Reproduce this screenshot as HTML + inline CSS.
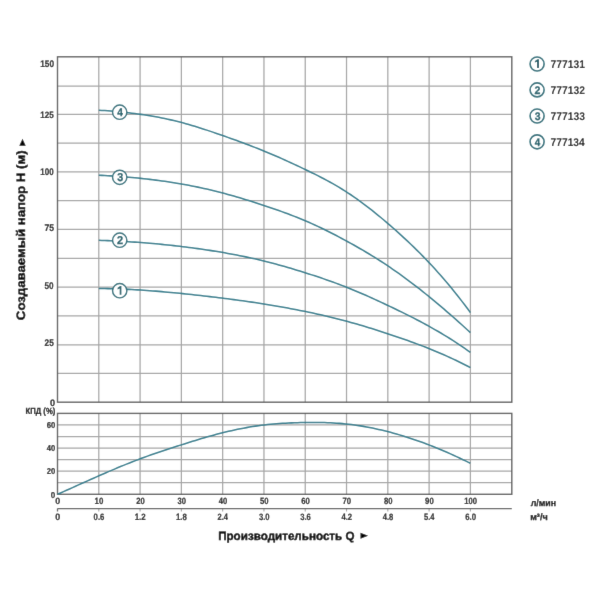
<!DOCTYPE html>
<html><head><meta charset="utf-8"><style>
html,body{margin:0;padding:0;background:#fff;width:600px;height:600px;overflow:hidden}
svg{display:block;will-change:transform}
text{font-family:"Liberation Sans",sans-serif;text-rendering:geometricPrecision}
</style></head><body>
<svg width="600" height="600" viewBox="0 0 600 600">
<defs><filter id="b" x="0" y="0" width="600" height="600" filterUnits="userSpaceOnUse"><feConvolveMatrix order="3" kernelMatrix="0.0052 0.0619 0.0052 0.0619 0.7314 0.0619 0.0052 0.0619 0.0052" edgeMode="duplicate"/></filter></defs>
<g filter="url(#b)">
<rect width="600" height="600" fill="#fff"/>
<path d="M57.5,86.2H511.8 M57.5,114.4H511.8 M57.5,143.1H511.8 M57.5,171.95H511.8 M57.5,200.55H511.8 M57.5,229.45H511.8 M57.5,258.4H511.8 M57.5,287.2H511.8 M57.5,315.85H511.8 M57.5,344.75H511.8 M57.5,373.3H511.8 M98.79,56.8V402.2 M140.08,56.8V402.2 M181.37,56.8V402.2 M222.66,56.8V402.2 M263.95,56.8V402.2 M305.24,56.8V402.2 M346.53,56.8V402.2 M387.82,56.8V402.2 M429.11,56.8V402.2 M470.4,56.8V402.2 M57.5,424.96H511.8 M57.5,436.51H511.8 M57.5,448.07H511.8 M57.5,459.63H511.8 M57.5,471.19H511.8 M57.5,482.74H511.8 M98.79,413.4V494.3 M140.08,413.4V494.3 M181.37,413.4V494.3 M222.66,413.4V494.3 M263.95,413.4V494.3 M305.24,413.4V494.3 M346.53,413.4V494.3 M387.82,413.4V494.3 M429.11,413.4V494.3 M470.4,413.4V494.3" stroke="#a6a6a6" stroke-width="1.25" fill="none"/>
<rect x="57.5" y="56.8" width="454.3" height="345.4" stroke="#5e5e5e" stroke-width="1.4" fill="none"/>
<rect x="57.5" y="413.4" width="454.3" height="80.9" stroke="#5e5e5e" stroke-width="1.4" fill="none"/>
<path d="M98.79,508.6V511.4 M140.08,508.6V511.4 M181.37,508.6V511.4 M222.66,508.6V511.4 M263.95,508.6V511.4 M305.24,508.6V511.4 M346.53,508.6V511.4 M387.82,508.6V511.4 M429.11,508.6V511.4 M470.4,508.6V511.4" stroke="#a6a6a6" stroke-width="1.1" fill="none"/>
<path d="M57.5,508.6H511.8 M57.5,508.6V511.6" stroke="#5e5e5e" stroke-width="1.3" fill="none"/>
<path d="M98.8,110.2 L101.8,110.4 L104.8,110.6 L107.8,110.83 L110.8,111.06 L113.8,111.31 L116.8,111.58 L119.8,111.86 L122.8,112.16 L125.8,112.48 L128.8,112.82 L131.8,113.17 L134.8,113.55 L137.8,113.95 L140.8,114.36 L143.8,114.8 L146.8,115.27 L149.8,115.75 L152.8,116.26 L155.8,116.8 L158.8,117.36 L161.8,117.94 L164.8,118.56 L167.8,119.2 L170.8,119.87 L173.8,120.57 L176.8,121.3 L179.8,122.06 L182.8,122.85 L185.8,123.67 L188.8,124.52 L191.8,125.4 L194.8,126.3 L197.8,127.23 L200.8,128.17 L203.8,129.14 L206.8,130.13 L209.8,131.13 L212.8,132.14 L215.8,133.17 L218.8,134.21 L221.8,135.25 L224.8,136.31 L227.8,137.37 L230.8,138.43 L233.8,139.51 L236.8,140.6 L239.8,141.69 L242.8,142.8 L245.8,143.92 L248.8,145.05 L251.8,146.2 L254.8,147.36 L257.8,148.55 L260.8,149.74 L263.8,150.96 L266.8,152.19 L269.8,153.45 L272.8,154.72 L275.8,156.01 L278.8,157.32 L281.8,158.64 L284.8,159.98 L287.8,161.34 L290.8,162.71 L293.8,164.09 L296.8,165.49 L299.8,166.9 L302.8,168.33 L305.8,169.76 L308.8,171.21 L311.8,172.68 L314.8,174.16 L317.8,175.67 L320.8,177.2 L323.8,178.77 L326.8,180.36 L329.8,182 L332.8,183.67 L335.8,185.39 L338.8,187.16 L341.8,188.98 L344.8,190.85 L347.8,192.78 L350.8,194.77 L353.8,196.82 L356.8,198.92 L359.8,201.08 L362.8,203.28 L365.8,205.54 L368.8,207.85 L371.8,210.2 L374.8,212.59 L377.8,215.03 L380.8,217.5 L383.8,220.01 L386.8,222.56 L389.8,225.14 L392.8,227.75 L395.8,230.4 L398.8,233.09 L401.8,235.81 L404.8,238.58 L407.8,241.38 L410.8,244.24 L413.8,247.13 L416.8,250.08 L419.8,253.07 L422.8,256.11 L425.8,259.21 L428.8,262.36 L431.8,265.57 L434.8,268.84 L437.8,272.16 L440.8,275.55 L443.8,278.99 L446.8,282.51 L449.8,286.09 L452.8,289.74 L455.8,293.45 L458.8,297.24 L461.8,301.11 L464.8,305.04 L467.8,309.06 L470.4,312.6" stroke="#2f7e8e" stroke-width="1.55" fill="none"/>
<path d="M98.8,175.2 L101.8,175.36 L104.8,175.52 L107.8,175.7 L110.8,175.89 L113.8,176.09 L116.8,176.29 L119.8,176.51 L122.8,176.74 L125.8,176.99 L128.8,177.24 L131.8,177.51 L134.8,177.79 L137.8,178.08 L140.8,178.38 L143.8,178.7 L146.8,179.03 L149.8,179.38 L152.8,179.74 L155.8,180.12 L158.8,180.51 L161.8,180.92 L164.8,181.34 L167.8,181.78 L170.8,182.24 L173.8,182.71 L176.8,183.2 L179.8,183.7 L182.8,184.23 L185.8,184.77 L188.8,185.33 L191.8,185.91 L194.8,186.51 L197.8,187.13 L200.8,187.76 L203.8,188.42 L206.8,189.09 L209.8,189.79 L212.8,190.5 L215.8,191.23 L218.8,191.99 L221.8,192.76 L224.8,193.56 L227.8,194.38 L230.8,195.21 L233.8,196.07 L236.8,196.94 L239.8,197.83 L242.8,198.73 L245.8,199.65 L248.8,200.58 L251.8,201.53 L254.8,202.49 L257.8,203.46 L260.8,204.44 L263.8,205.43 L266.8,206.43 L269.8,207.45 L272.8,208.47 L275.8,209.51 L278.8,210.56 L281.8,211.63 L284.8,212.72 L287.8,213.83 L290.8,214.96 L293.8,216.12 L296.8,217.3 L299.8,218.51 L302.8,219.75 L305.8,221.01 L308.8,222.31 L311.8,223.64 L314.8,225.01 L317.8,226.4 L320.8,227.82 L323.8,229.26 L326.8,230.73 L329.8,232.23 L332.8,233.76 L335.8,235.3 L338.8,236.87 L341.8,238.46 L344.8,240.08 L347.8,241.71 L350.8,243.36 L353.8,245.04 L356.8,246.74 L359.8,248.46 L362.8,250.2 L365.8,251.97 L368.8,253.77 L371.8,255.6 L374.8,257.46 L377.8,259.34 L380.8,261.26 L383.8,263.21 L386.8,265.2 L389.8,267.22 L392.8,269.27 L395.8,271.36 L398.8,273.48 L401.8,275.64 L404.8,277.83 L407.8,280.05 L410.8,282.3 L413.8,284.58 L416.8,286.89 L419.8,289.23 L422.8,291.6 L425.8,294 L428.8,296.43 L431.8,298.88 L434.8,301.36 L437.8,303.87 L440.8,306.4 L443.8,308.96 L446.8,311.54 L449.8,314.14 L452.8,316.77 L455.8,319.41 L458.8,322.08 L461.8,324.78 L464.8,327.49 L467.8,330.22 L470.4,332.6" stroke="#2f7e8e" stroke-width="1.55" fill="none"/>
<path d="M98.8,240.3 L101.8,240.41 L104.8,240.52 L107.8,240.64 L110.8,240.77 L113.8,240.91 L116.8,241.06 L119.8,241.22 L122.8,241.38 L125.8,241.56 L128.8,241.74 L131.8,241.93 L134.8,242.13 L137.8,242.34 L140.8,242.56 L143.8,242.79 L146.8,243.03 L149.8,243.27 L152.8,243.53 L155.8,243.8 L158.8,244.07 L161.8,244.36 L164.8,244.66 L167.8,244.96 L170.8,245.28 L173.8,245.61 L176.8,245.95 L179.8,246.3 L182.8,246.66 L185.8,247.03 L188.8,247.41 L191.8,247.8 L194.8,248.21 L197.8,248.62 L200.8,249.05 L203.8,249.48 L206.8,249.93 L209.8,250.39 L212.8,250.86 L215.8,251.35 L218.8,251.84 L221.8,252.35 L224.8,252.86 L227.8,253.39 L230.8,253.94 L233.8,254.49 L236.8,255.06 L239.8,255.65 L242.8,256.25 L245.8,256.87 L248.8,257.5 L251.8,258.16 L254.8,258.83 L257.8,259.51 L260.8,260.22 L263.8,260.95 L266.8,261.7 L269.8,262.47 L272.8,263.26 L275.8,264.06 L278.8,264.89 L281.8,265.73 L284.8,266.59 L287.8,267.46 L290.8,268.34 L293.8,269.24 L296.8,270.16 L299.8,271.08 L302.8,272.01 L305.8,272.96 L308.8,273.91 L311.8,274.88 L314.8,275.85 L317.8,276.84 L320.8,277.85 L323.8,278.87 L326.8,279.9 L329.8,280.96 L332.8,282.03 L335.8,283.12 L338.8,284.24 L341.8,285.37 L344.8,286.53 L347.8,287.72 L350.8,288.93 L353.8,290.16 L356.8,291.41 L359.8,292.69 L362.8,293.99 L365.8,295.3 L368.8,296.64 L371.8,297.99 L374.8,299.35 L377.8,300.73 L380.8,302.12 L383.8,303.52 L386.8,304.93 L389.8,306.35 L392.8,307.78 L395.8,309.23 L398.8,310.68 L401.8,312.14 L404.8,313.63 L407.8,315.12 L410.8,316.64 L413.8,318.17 L416.8,319.72 L419.8,321.3 L422.8,322.9 L425.8,324.52 L428.8,326.17 L431.8,327.84 L434.8,329.55 L437.8,331.28 L440.8,333.04 L443.8,334.84 L446.8,336.67 L449.8,338.53 L452.8,340.44 L455.8,342.37 L458.8,344.35 L461.8,346.37 L464.8,348.43 L467.8,350.54 L470.4,352.4" stroke="#2f7e8e" stroke-width="1.55" fill="none"/>
<path d="M98.8,288.5 L101.8,288.52 L104.8,288.56 L107.8,288.62 L110.8,288.68 L113.8,288.76 L116.8,288.86 L119.8,288.97 L122.8,289.09 L125.8,289.22 L128.8,289.36 L131.8,289.52 L134.8,289.68 L137.8,289.86 L140.8,290.05 L143.8,290.25 L146.8,290.46 L149.8,290.68 L152.8,290.91 L155.8,291.14 L158.8,291.39 L161.8,291.64 L164.8,291.91 L167.8,292.18 L170.8,292.45 L173.8,292.74 L176.8,293.03 L179.8,293.33 L182.8,293.63 L185.8,293.94 L188.8,294.26 L191.8,294.58 L194.8,294.91 L197.8,295.24 L200.8,295.58 L203.8,295.92 L206.8,296.27 L209.8,296.62 L212.8,296.98 L215.8,297.34 L218.8,297.71 L221.8,298.09 L224.8,298.47 L227.8,298.85 L230.8,299.24 L233.8,299.63 L236.8,300.03 L239.8,300.44 L242.8,300.85 L245.8,301.27 L248.8,301.7 L251.8,302.14 L254.8,302.58 L257.8,303.04 L260.8,303.5 L263.8,303.97 L266.8,304.45 L269.8,304.94 L272.8,305.44 L275.8,305.95 L278.8,306.47 L281.8,307 L284.8,307.53 L287.8,308.08 L290.8,308.64 L293.8,309.21 L296.8,309.8 L299.8,310.39 L302.8,310.99 L305.8,311.6 L308.8,312.23 L311.8,312.86 L314.8,313.51 L317.8,314.17 L320.8,314.84 L323.8,315.53 L326.8,316.23 L329.8,316.94 L332.8,317.67 L335.8,318.42 L338.8,319.18 L341.8,319.95 L344.8,320.74 L347.8,321.55 L350.8,322.38 L353.8,323.22 L356.8,324.08 L359.8,324.95 L362.8,325.84 L365.8,326.74 L368.8,327.66 L371.8,328.59 L374.8,329.53 L377.8,330.48 L380.8,331.45 L383.8,332.42 L386.8,333.4 L389.8,334.4 L392.8,335.4 L395.8,336.41 L398.8,337.44 L401.8,338.47 L404.8,339.52 L407.8,340.59 L410.8,341.67 L413.8,342.76 L416.8,343.88 L419.8,345 L422.8,346.15 L425.8,347.32 L428.8,348.51 L431.8,349.72 L434.8,350.95 L437.8,352.21 L440.8,353.49 L443.8,354.79 L446.8,356.12 L449.8,357.48 L452.8,358.87 L455.8,360.28 L458.8,361.72 L461.8,363.2 L464.8,364.7 L467.8,366.24 L470.4,367.6" stroke="#2f7e8e" stroke-width="1.55" fill="none"/>
<path d="M57.5,494.3 L60.5,492.97 L63.5,491.63 L66.5,490.29 L69.5,488.95 L72.5,487.6 L75.5,486.26 L78.5,484.91 L81.5,483.56 L84.5,482.22 L87.5,480.88 L90.5,479.54 L93.5,478.21 L96.5,476.88 L99.5,475.56 L102.5,474.25 L105.5,472.94 L108.5,471.65 L111.5,470.37 L114.5,469.09 L117.5,467.84 L120.5,466.59 L123.5,465.36 L126.5,464.14 L129.5,462.94 L132.5,461.76 L135.5,460.6 L138.5,459.45 L141.5,458.33 L144.5,457.22 L147.5,456.14 L150.5,455.07 L153.5,454.02 L156.5,452.99 L159.5,451.97 L162.5,450.96 L165.5,449.96 L168.5,448.98 L171.5,448 L174.5,447.04 L177.5,446.07 L180.5,445.12 L183.5,444.17 L186.5,443.22 L189.5,442.28 L192.5,441.34 L195.5,440.42 L198.5,439.51 L201.5,438.61 L204.5,437.72 L207.5,436.85 L210.5,436 L213.5,435.17 L216.5,434.36 L219.5,433.57 L222.5,432.8 L225.5,432.06 L228.5,431.34 L231.5,430.65 L234.5,429.99 L237.5,429.36 L240.5,428.75 L243.5,428.17 L246.5,427.62 L249.5,427.1 L252.5,426.61 L255.5,426.14 L258.5,425.71 L261.5,425.31 L264.5,424.94 L267.5,424.6 L270.5,424.29 L273.5,424.01 L276.5,423.76 L279.5,423.54 L282.5,423.34 L285.5,423.16 L288.5,423 L291.5,422.87 L294.5,422.76 L297.5,422.67 L300.5,422.59 L303.5,422.53 L306.5,422.49 L309.5,422.46 L312.5,422.44 L315.5,422.45 L318.5,422.48 L321.5,422.52 L324.5,422.59 L327.5,422.69 L330.5,422.81 L333.5,422.97 L336.5,423.15 L339.5,423.36 L342.5,423.61 L345.5,423.9 L348.5,424.22 L351.5,424.58 L354.5,424.97 L357.5,425.41 L360.5,425.87 L363.5,426.38 L366.5,426.91 L369.5,427.48 L372.5,428.09 L375.5,428.72 L378.5,429.39 L381.5,430.09 L384.5,430.81 L387.5,431.57 L390.5,432.36 L393.5,433.17 L396.5,434.01 L399.5,434.88 L402.5,435.78 L405.5,436.71 L408.5,437.66 L411.5,438.65 L414.5,439.66 L417.5,440.69 L420.5,441.76 L423.5,442.85 L426.5,443.97 L429.5,445.12 L432.5,446.29 L435.5,447.49 L438.5,448.71 L441.5,449.97 L444.5,451.24 L447.5,452.55 L450.5,453.88 L453.5,455.23 L456.5,456.62 L459.5,458.02 L462.5,459.46 L465.5,460.91 L468.5,462.4 L470.3,463.3" stroke="#2f7e8e" stroke-width="1.55" fill="none"/>
<circle cx="119.7" cy="290.7" r="7.15" fill="#fff" stroke="#2f717c" stroke-width="1.45"/>
<path d="M121.4,286.1 L121.4,294.8 L119.7,294.8 L119.7,288.5 L117.6,289.4 L117.6,287.8 L120.04,286.1 Z" fill="#27646e"/>
<circle cx="119.7" cy="240.2" r="7.15" fill="#fff" stroke="#2f717c" stroke-width="1.45"/>
<text transform="translate(117.07,244) scale(0.964,1)" font-size="11.43" font-weight="bold" stroke="#27646e" stroke-width="0.026em" fill="#27646e">2</text>
<circle cx="119.7" cy="177.3" r="7.15" fill="#fff" stroke="#2f717c" stroke-width="1.45"/>
<text transform="translate(117.18,181.1) scale(0.945,1)" font-size="11.43" font-weight="bold" stroke="#27646e" stroke-width="0.026em" fill="#27646e">3</text>
<circle cx="119.7" cy="112.2" r="7.15" fill="#fff" stroke="#2f717c" stroke-width="1.45"/>
<text transform="translate(117.2,116) scale(0.892,1)" font-size="11.43" font-weight="bold" stroke="#27646e" stroke-width="0.026em" fill="#27646e">4</text>
<circle cx="537.1" cy="64" r="7.0" fill="#fff" stroke="#2f717c" stroke-width="1.6"/>
<path d="M539,59.3 L539,67.9 L537,67.9 L537,61.7 L534.9,62.6 L534.9,61 L537.4,59.3 Z" fill="#27646e"/>
<text transform="translate(550.59,67.8) scale(0.925,1)" font-size="11.14" font-weight="bold" fill="#1a1a1a">777131</text>
<circle cx="537.1" cy="89.9" r="7.0" fill="#fff" stroke="#2f717c" stroke-width="1.6"/>
<text transform="translate(534.58,93.6) scale(0.965,1)" font-size="11" font-weight="bold" stroke="#27646e" stroke-width="0.027em" fill="#27646e">2</text>
<text transform="translate(550.59,93.7) scale(0.928,1)" font-size="11.14" font-weight="bold" fill="#1a1a1a">777132</text>
<circle cx="537.1" cy="116" r="7.0" fill="#fff" stroke="#2f717c" stroke-width="1.6"/>
<text transform="translate(534.69,119.7) scale(0.945,1)" font-size="11" font-weight="bold" stroke="#27646e" stroke-width="0.027em" fill="#27646e">3</text>
<text transform="translate(550.59,119.8) scale(0.928,1)" font-size="11.14" font-weight="bold" fill="#1a1a1a">777133</text>
<circle cx="537.1" cy="141.85" r="7.0" fill="#fff" stroke="#2f717c" stroke-width="1.6"/>
<text transform="translate(534.7,145.55) scale(0.892,1)" font-size="11" font-weight="bold" stroke="#27646e" stroke-width="0.027em" fill="#27646e">4</text>
<text transform="translate(550.59,145.65) scale(0.919,1)" font-size="11.14" font-weight="bold" fill="#1a1a1a">777134</text>
<text transform="translate(40.2,67) scale(0.865,1)" font-size="9.57" font-weight="bold" stroke="#222" stroke-width="0.021em" fill="#222">150</text>
<text transform="translate(40.32,118) scale(0.866,1)" font-size="9.29" font-weight="bold" stroke="#222" stroke-width="0.022em" fill="#222">125</text>
<text transform="translate(40.32,174.8) scale(0.832,1)" font-size="9.57" font-weight="bold" stroke="#222" stroke-width="0.021em" fill="#222">100</text>
<text transform="translate(44.46,230.8) scale(0.886,1)" font-size="9.71" font-weight="bold" stroke="#222" stroke-width="0.021em" fill="#222">75</text>
<text transform="translate(44.55,289) scale(0.829,1)" font-size="9.86" font-weight="bold" stroke="#222" stroke-width="0.020em" fill="#222">50</text>
<text transform="translate(44.55,345.8) scale(0.853,1)" font-size="9.71" font-weight="bold" stroke="#222" stroke-width="0.021em" fill="#222">25</text>
<text transform="translate(49.93,405.5) scale(0.970,1)" font-size="9.43" font-weight="bold" stroke="#222" stroke-width="0.021em" fill="#222">0</text>
<text transform="translate(46.69,428.3) scale(0.906,1)" font-size="8.57" font-weight="bold" stroke="#222" stroke-width="0.023em" fill="#222">60</text>
<text transform="translate(46.85,451.1) scale(0.889,1)" font-size="8.57" font-weight="bold" stroke="#222" stroke-width="0.023em" fill="#222">40</text>
<text transform="translate(46.77,473.8) scale(0.897,1)" font-size="8.57" font-weight="bold" stroke="#222" stroke-width="0.023em" fill="#222">20</text>
<text transform="translate(50.68,497.7) scale(0.943,1)" font-size="8.57" font-weight="bold" stroke="#222" stroke-width="0.023em" fill="#222">0</text>
<text transform="translate(55.34,503.8) scale(0.977,1)" font-size="9.14" font-weight="bold" stroke="#222" stroke-width="0.022em" fill="#222">0</text>
<text transform="translate(94.61,503.8) scale(0.866,1)" font-size="9.14" font-weight="bold" stroke="#222" stroke-width="0.022em" fill="#222">10</text>
<text transform="translate(136.15,503.8) scale(0.841,1)" font-size="9.14" font-weight="bold" stroke="#222" stroke-width="0.022em" fill="#222">20</text>
<text transform="translate(177.52,503.8) scale(0.833,1)" font-size="9.14" font-weight="bold" stroke="#222" stroke-width="0.022em" fill="#222">30</text>
<text transform="translate(218.81,503.8) scale(0.833,1)" font-size="9.14" font-weight="bold" stroke="#222" stroke-width="0.022em" fill="#222">40</text>
<text transform="translate(260.02,503.8) scale(0.841,1)" font-size="9.14" font-weight="bold" stroke="#222" stroke-width="0.022em" fill="#222">50</text>
<text transform="translate(301.23,503.8) scale(0.850,1)" font-size="9.14" font-weight="bold" stroke="#222" stroke-width="0.022em" fill="#222">60</text>
<text transform="translate(342.52,503.8) scale(0.850,1)" font-size="9.14" font-weight="bold" stroke="#222" stroke-width="0.022em" fill="#222">70</text>
<text transform="translate(383.89,503.8) scale(0.841,1)" font-size="9.14" font-weight="bold" stroke="#222" stroke-width="0.022em" fill="#222">80</text>
<text transform="translate(425.1,503.8) scale(0.850,1)" font-size="9.14" font-weight="bold" stroke="#222" stroke-width="0.022em" fill="#222">90</text>
<text transform="translate(464.24,503.8) scale(0.836,1)" font-size="9.14" font-weight="bold" stroke="#222" stroke-width="0.022em" fill="#222">100</text>
<text transform="translate(55.24,519.5) scale(0.962,1)" font-size="9.29" font-weight="bold" stroke="#222" stroke-width="0.022em" fill="#222">0</text>
<text transform="translate(93.58,519.5) scale(0.839,1)" font-size="9.29" font-weight="bold" stroke="#222" stroke-width="0.022em" fill="#222">0.6</text>
<text transform="translate(134.71,519.5) scale(0.852,1)" font-size="9.29" font-weight="bold" stroke="#222" stroke-width="0.022em" fill="#222">1.2</text>
<text transform="translate(176,519.5) scale(0.845,1)" font-size="9.29" font-weight="bold" stroke="#222" stroke-width="0.022em" fill="#222">1.8</text>
<text transform="translate(217.53,519.5) scale(0.808,1)" font-size="9.29" font-weight="bold" stroke="#222" stroke-width="0.022em" fill="#222">2.4</text>
<text transform="translate(258.9,519.5) scale(0.826,1)" font-size="9.29" font-weight="bold" stroke="#222" stroke-width="0.022em" fill="#222">3.0</text>
<text transform="translate(300.19,519.5) scale(0.826,1)" font-size="9.29" font-weight="bold" stroke="#222" stroke-width="0.022em" fill="#222">3.6</text>
<text transform="translate(341.48,519.5) scale(0.826,1)" font-size="9.29" font-weight="bold" stroke="#222" stroke-width="0.022em" fill="#222">4.2</text>
<text transform="translate(382.77,519.5) scale(0.820,1)" font-size="9.29" font-weight="bold" stroke="#222" stroke-width="0.022em" fill="#222">4.8</text>
<text transform="translate(423.98,519.5) scale(0.808,1)" font-size="9.29" font-weight="bold" stroke="#222" stroke-width="0.022em" fill="#222">5.4</text>
<text transform="translate(465.19,519.5) scale(0.839,1)" font-size="9.29" font-weight="bold" stroke="#222" stroke-width="0.022em" fill="#222">6.0</text>
<text transform="translate(25.46,414.3) scale(0.872,1)" font-size="8.84" font-weight="bold" stroke="#111" stroke-width="0.028em" fill="#111">КПД (%)</text>
<text transform="translate(530.71,506.2) scale(0.950,1)" font-size="9.32" font-weight="bold" stroke="#111" stroke-width="0.027em" fill="#111">л/мин</text>
<text transform="translate(530.17,519.5) scale(0.972,1)" font-size="9.32" font-weight="bold" stroke="#111" stroke-width="0.027em" fill="#111">м³/ч</text>
<text transform="translate(218.13,539.7) scale(0.974,1)" font-size="11.96" font-weight="bold" stroke="#000" stroke-width="0.033em" fill="#000">Производительность Q</text>
<path d="M360.5,532.8 L368.1,535.8 L360.5,538.8 Z" fill="#000"/>
<text transform="translate(25.2,320.13) rotate(-90) scale(1.085,1)" font-size="12.17" font-weight="bold" fill="#000" stroke="#000" stroke-width="0.40">Создаваемый напор H (м)</text>
<path d="M19.3,145.7 L22.5,138.8 L25.7,145.7 Z" fill="#000"/>
</g>
</svg>
</body></html>
